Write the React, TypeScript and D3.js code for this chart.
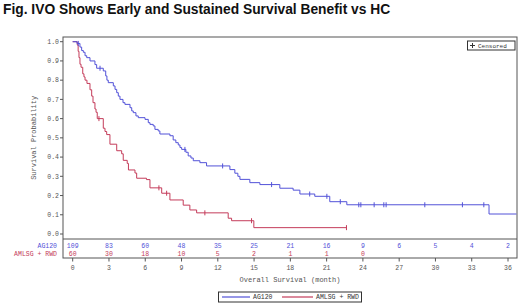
import React from "react";
import * as d3 from "d3";

const title = "Fig. IVO Shows Early and Sustained Survival Benefit vs HC";
const seriesNames = ["AG120", "AMLSG + RWD"];
const xTicks = [0, 3, 6, 9, 12, 15, 18, 21, 24, 27, 30, 33, 36];
const yTicks = [0, 0.1, 0.2, 0.3, 0.4, 0.5, 0.6, 0.7, 0.8, 0.9, 1.0];
const atRiskTimes = [0, 3, 6, 9, 12, 15, 18, 21, 24, 27, 30, 33, 36];
const atRiskAG120 = [109, 83, 60, 48, 35, 25, 21, 16, 9, 6, 5, 4, 2];
const atRiskAMLSG = [60, 30, 18, 10, 5, 2, 1, 1, 0];

// [time (months), survival after step]
const stepsAG120: [number, number][] = [
  [0, 1.0], [0.35, 0.991], [0.6, 0.972], [0.74, 0.954], [0.88, 0.945], [1.02, 0.927],
  [1.16, 0.917], [1.43, 0.9], [1.84, 0.881], [1.98, 0.862], [2.53, 0.848], [2.73, 0.822],
  [2.83, 0.8], [2.94, 0.787], [3.36, 0.77], [3.5, 0.752], [3.64, 0.735], [3.77, 0.717],
  [3.91, 0.7], [4.16, 0.683], [4.32, 0.674], [4.74, 0.657], [4.88, 0.64], [5.01, 0.631],
  [5.23, 0.614], [5.42, 0.605], [5.98, 0.596], [6.25, 0.579], [6.39, 0.57], [6.66, 0.562],
  [6.8, 0.544], [7.07, 0.536], [7.21, 0.52], [8.04, 0.511], [8.31, 0.489], [8.53, 0.475],
  [8.73, 0.463], [8.87, 0.45], [9.01, 0.44], [9.36, 0.425], [9.55, 0.406], [9.78, 0.395],
  [9.97, 0.381], [10.52, 0.371], [11.07, 0.354], [13.0, 0.335], [13.41, 0.316], [13.66, 0.3],
  [13.83, 0.284], [14.65, 0.267], [15.48, 0.257], [17.13, 0.238], [18.23, 0.228],
  [18.79, 0.208], [20.02, 0.196], [21.26, 0.168], [22.67, 0.152], [34.43, 0.104], [36.7, 0.104],
];
const censorAG120 = [0.46, 2.26, 9.28, 12.4, 16.45, 19.6, 21.02, 22.13, 23.66, 23.83, 24.93, 25.73, 25.92, 29.12, 32.23, 34.0];

const stepsAMLSG: [number, number][] = [
  [0, 1.0], [0.38, 0.983], [0.45, 0.95], [0.52, 0.917], [0.6, 0.883], [0.69, 0.867],
  [0.83, 0.833], [0.93, 0.817], [1.02, 0.8], [1.18, 0.783], [1.43, 0.75], [1.57, 0.717],
  [1.68, 0.683], [1.84, 0.65], [1.93, 0.633], [2.03, 0.6], [2.53, 0.55], [2.67, 0.533],
  [2.81, 0.517], [3.08, 0.467], [3.64, 0.433], [4.05, 0.417], [4.18, 0.383], [4.51, 0.367],
  [4.61, 0.333], [5.15, 0.317], [5.29, 0.29], [6.1, 0.283], [6.39, 0.24], [7.36, 0.212],
  [8.04, 0.177], [9.14, 0.15], [9.69, 0.125], [10.25, 0.11], [12.86, 0.082], [13.14, 0.069],
  [14.98, 0.033], [22.64, 0.033],
];
const censorAMLSG = [2.17, 7.13, 7.77, 10.93, 14.79, 22.64];

const BLUE = "#5252d8";
const RED = "#c43c5a";
const AXIS = "#555";
const TXT = "#555";
const MONO = "'Liberation Mono', 'DejaVu Sans Mono', monospace";

const frameL = 63, frameR = 517, frameT = 37, plotB = 239, axisY = 258;

export default function App() {
  const x = d3.scaleLinear().domain([0, 36]).range([72.7, 508]);
  const y = d3.scaleLinear().domain([0, 1]).range([234, 41.7]);
  const line = d3.line<[number, number]>().x(d => x(d[0])).y(d => y(d[1])).curve(d3.curveStepAfter);

  const survAt = (steps: [number, number][], t: number) => {
    let s = steps[0][1];
    for (const p of steps) if (p[0] <= t) s = p[1];
    return s;
  };

  const censorMarks = (steps: [number, number][], times: number[], color: string, key: string) =>
    times.map((t, i) => {
      const cx = x(t), cy = y(survAt(steps, t));
      return <line key={key + i} x1={cx} x2={cx} y1={cy - 2.5} y2={cy + 2.5} stroke={color} strokeWidth={1} />;
    });

  return (
    <svg width={520} height={305} style={{ position: "absolute", left: 0, top: 0, background: "#fff" }}>
      <text x={3} y={14} fontFamily="'Liberation Sans', Arial, sans-serif" fontWeight="bold" fontSize={13.8} fill="#111">{title}</text>

      {/* frame */}
      <rect x={frameL} y={frameT} width={frameR - frameL} height={axisY - frameT} fill="none" stroke={AXIS} strokeWidth={1} />
      <line x1={frameL} x2={frameR} y1={plotB} y2={plotB} stroke={AXIS} strokeWidth={1} />

      {/* y axis */}
      {yTicks.map(v => (
        <g key={"y" + v}>
          <line x1={frameL - 3} x2={frameL} y1={y(v)} y2={y(v)} stroke={AXIS} />
          <text x={frameL - 4} y={y(v) + 2.3} textAnchor="end" fontFamily={MONO} fontSize={6.5} fill={TXT}>{v.toFixed(1)}</text>
        </g>
      ))}
      <text transform={`translate(35.5, ${(41.7 + 234) / 2}) rotate(-90)`} textAnchor="middle" fontFamily={MONO} fontSize={7} fill={TXT}>Survival Probability</text>

      {/* x axis */}
      {xTicks.map(v => (
        <g key={"x" + v}>
          <line x1={x(v)} x2={x(v)} y1={axisY} y2={axisY + 3.5} stroke={AXIS} />
          <text x={x(v)} y={270} textAnchor="middle" fontFamily={MONO} fontSize={6.5} fill={TXT}>{v}</text>
        </g>
      ))}
      <text x={290} y={282} textAnchor="middle" fontFamily={MONO} fontSize={7} fill={TXT}>Overall Survival (month)</text>

      {/* at risk */}
      <text x={57} y={248} textAnchor="end" fontFamily={MONO} fontSize={6.5} fill={BLUE}>{seriesNames[0]}</text>
      <text x={57} y={256} textAnchor="end" fontFamily={MONO} fontSize={6.5} fill={RED}>{seriesNames[1]}</text>
      {atRiskAG120.map((n, i) => (
        <text key={"ra" + i} x={x(atRiskTimes[i])} y={248} textAnchor="middle" fontFamily={MONO} fontSize={6.5} fill={BLUE}>{n}</text>
      ))}
      {atRiskAMLSG.map((n, i) => (
        <text key={"rb" + i} x={x(atRiskTimes[i])} y={256} textAnchor="middle" fontFamily={MONO} fontSize={6.5} fill={RED}>{n}</text>
      ))}

      {/* curves */}
      <path d={line(stepsAMLSG) || ""} fill="none" stroke={RED} strokeWidth={1} />
      <path d={line(stepsAG120) || ""} fill="none" stroke={BLUE} strokeWidth={1} />
      {censorMarks(stepsAMLSG, censorAMLSG, RED, "ca")}
      {censorMarks(stepsAG120, censorAG120, BLUE, "cb")}

      {/* censored legend */}
      <rect x={467.5} y={41} width={47.5} height={9} fill="#fff" stroke="#333" strokeWidth={1} />
      <line x1={470} x2={475} y1={45.5} y2={45.5} stroke="#333" />
      <line x1={472.5} x2={472.5} y1={43} y2={48} stroke="#333" />
      <text x={478} y={47.8} fontFamily={MONO} fontSize={6} fill="#333">Censored</text>

      {/* bottom legend */}
      <rect x={218.5} y={292} width={143} height={10} fill="#fff" stroke="#333" strokeWidth={1} />
      <line x1={222} x2={250} y1={297} y2={297} stroke={BLUE} strokeWidth={1.2} />
      <text x={253} y={299.3} fontFamily={MONO} fontSize={6.5} fill="#333">{seriesNames[0]}</text>
      <line x1={282} x2={313} y1={297} y2={297} stroke={RED} strokeWidth={1.2} />
      <text x={316} y={299.3} fontFamily={MONO} fontSize={6.5} fill="#333">{seriesNames[1]}</text>
    </svg>
  );
}
